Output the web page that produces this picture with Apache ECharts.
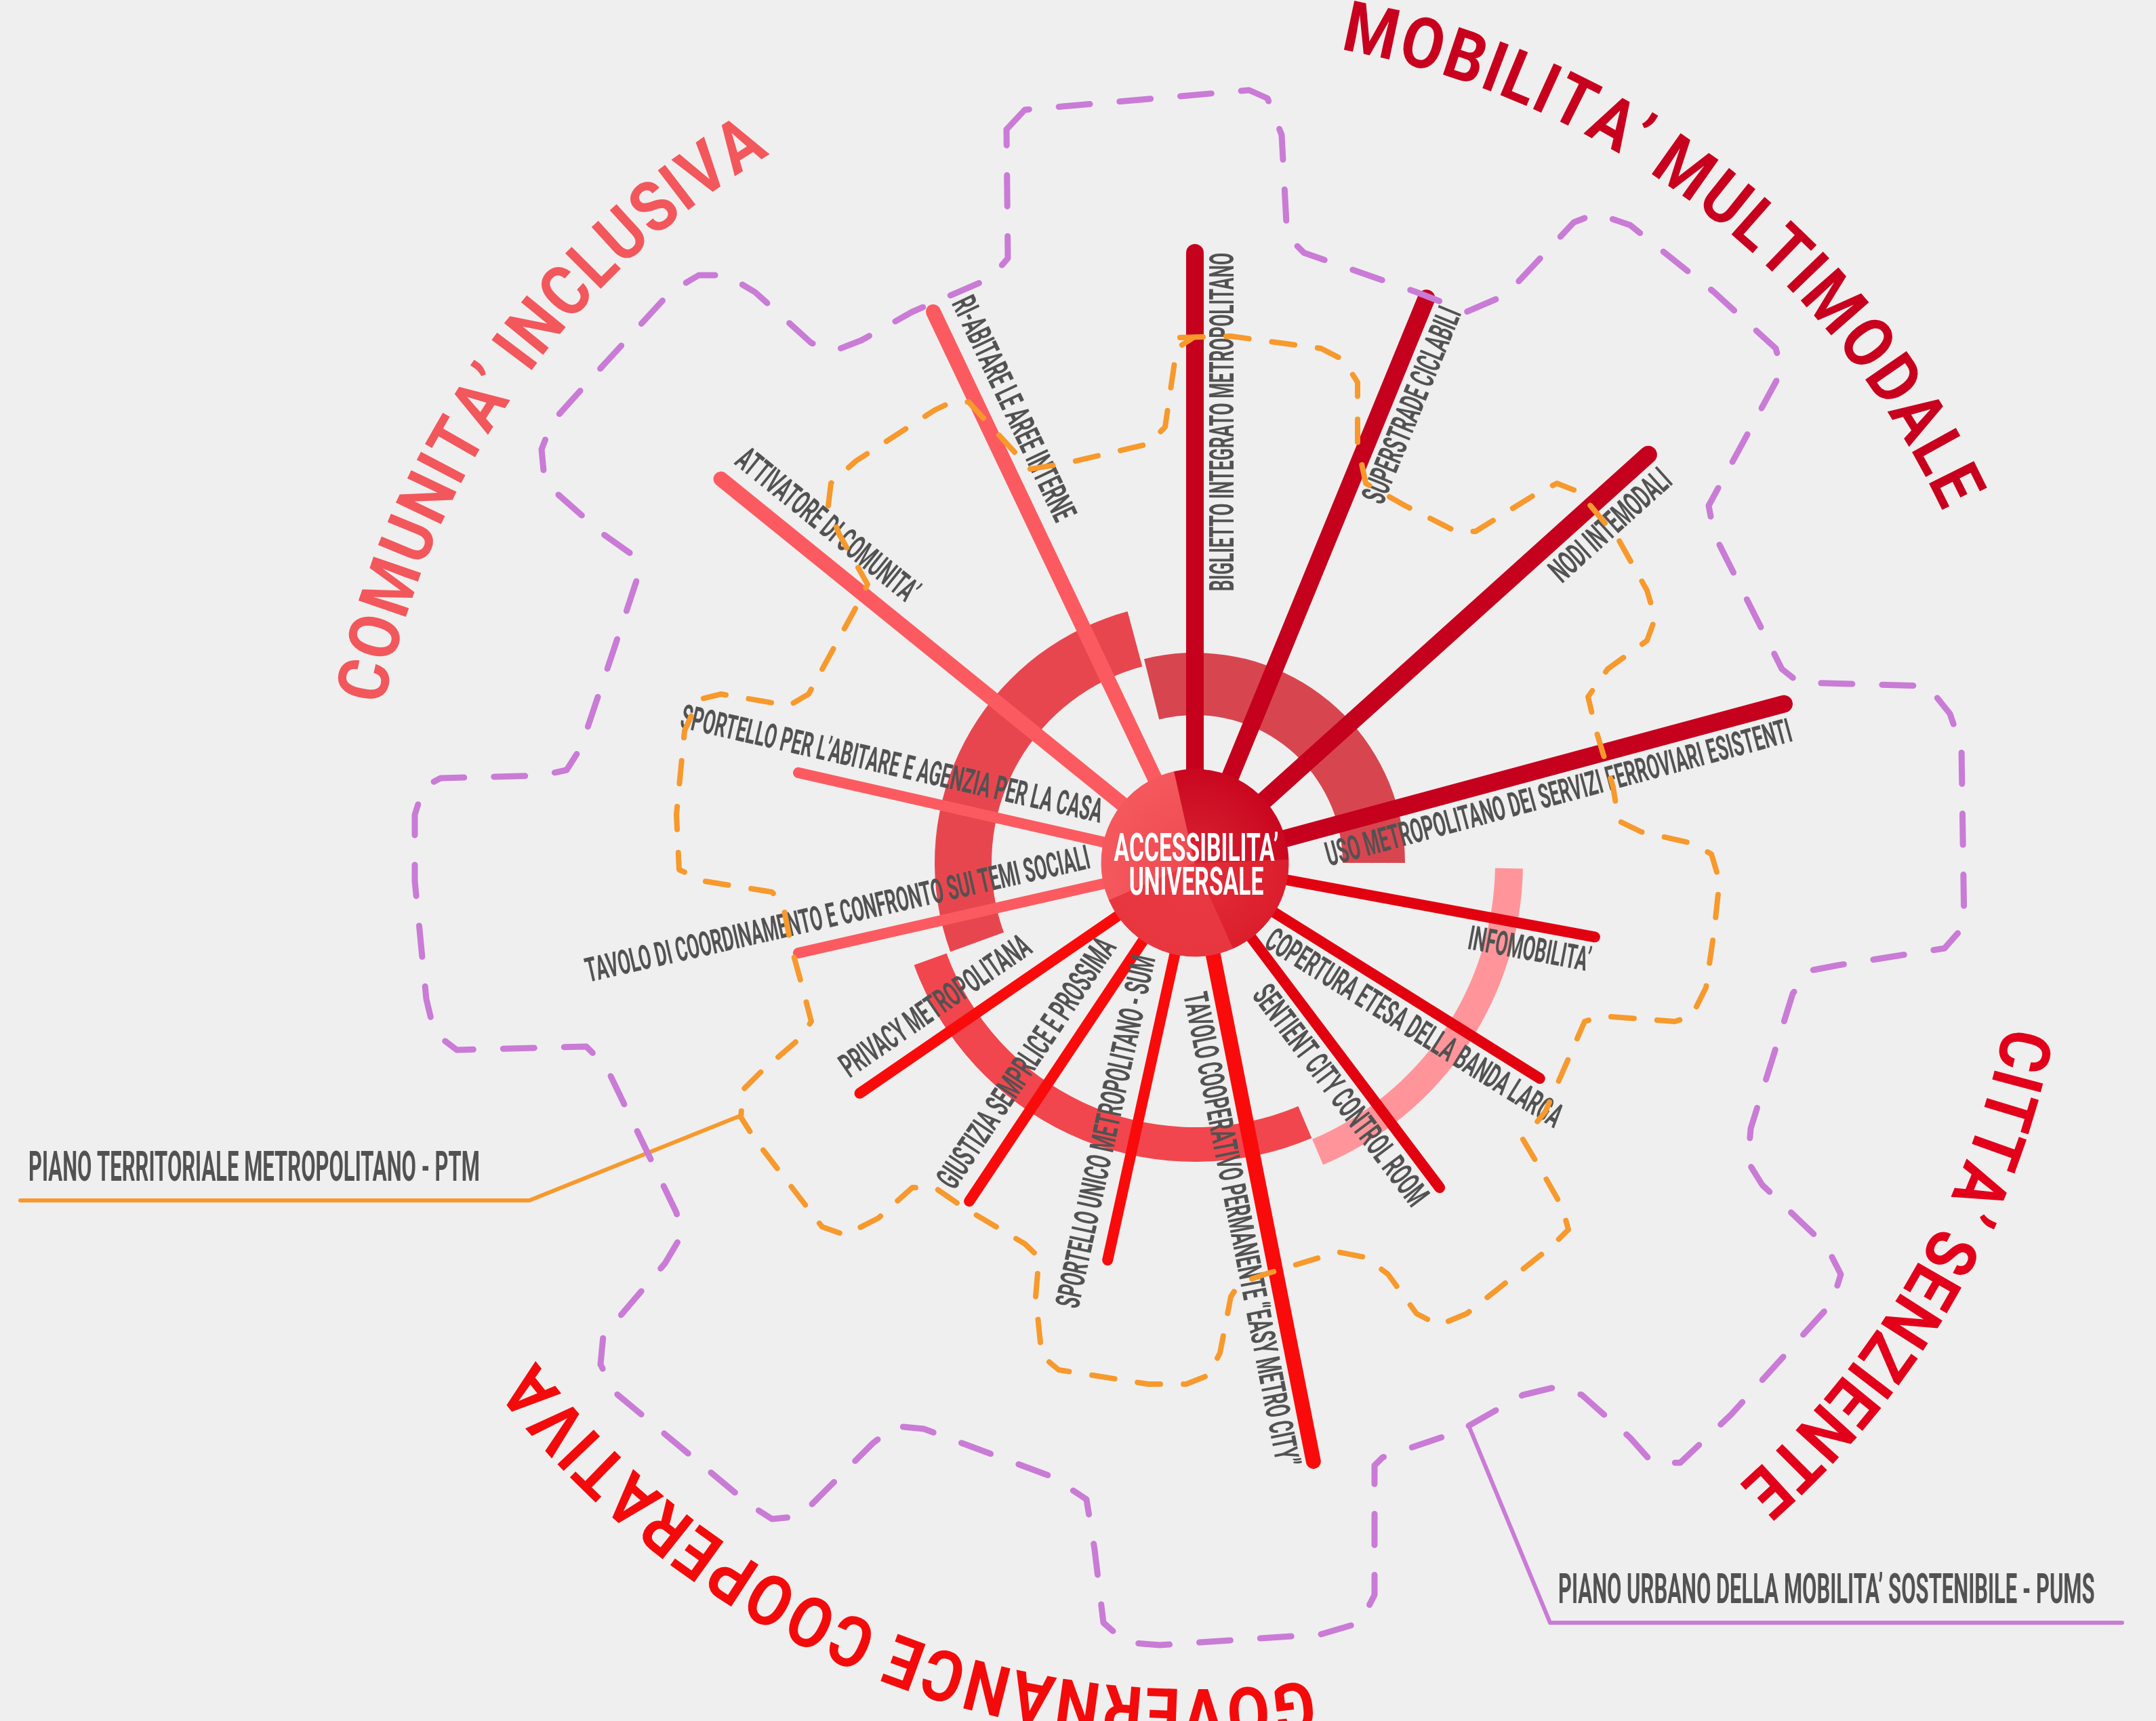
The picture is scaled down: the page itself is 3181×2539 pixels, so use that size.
<!DOCTYPE html>
<html><head><meta charset="utf-8">
<script src="https://cdn.jsdelivr.net/npm/echarts/dist/echarts.min.js"></script>
<style>html,body{margin:0;padding:0;background:#efefef}#c{width:3181px;height:2539px}</style>
</head><body><div id="c"></div>
<script>
// ---------------- DATA ----------------
const groupNames = ['MOBILITA’ MULTIMODALE', 'CITTA’ SENZIENTE', 'GOVERNANCE COOPERATIVA', 'COMUNITA’ INCLUSIVA'];
const hubLabel = ['ACCESSIBILITA’', 'UNIVERSALE'];
const actionLabels = [
  'BIGLIETTO INTEGRATO METROPOLITANO',
  'SUPERSTRADE CICLABILI',
  'NODI INTEMODALI',
  'USO METROPOLITANO DEI SERVIZI FERROVIARI ESISTENTI',
  'INFOMOBILITA’',
  'COPERTURA ETESA DELLA BANDA LARGA',
  'SENTIENT CITY CONTROL ROOM',
  'TAVOLO COOPERATIVO PERMANENTE “EASY METRO CITY”',
  'SPORTELLO UNICO METROPOLITANO - SUM',
  'GIUSTIZIA SEMPRLICE E PROSSIMA',
  'PRIVACY METROPOLITANA',
  'TAVOLO DI COORDINAMENTO E CONFRONTO SUI TEMI SOCIALI',
  'SPORTELLO PER L’ABITARE E AGENZIA PER LA CASA',
  'ATTIVATORE DI COMUNITA’',
  'RI-ABITARE LE AREE INTERNE'
];
const actionGroup = [0, 0, 0, 0, 1, 1, 1, 2, 2, 2, 2, 3, 3, 3, 3];
const actionAngle = [90, 67.7, 42, 15.1, -10.5, -32, -53, -78.8, -102.4, -123.7, -145.5, -167.2, 167.2, 141, 115.4];
const actionLevel = [3, 3, 3, 3, 2, 2, 2, 3, 2, 2, 2, 2, 2, 3, 3];
// angular extent of each group's ring arc (degrees, counter-clockwise from east)
const ringFrom = [0, -67, -160, 105];
const ringTo = [104, -1, -67, 200];
// plan names (legend)
const planNames = ['PIANO TERRITORIALE METROPOLITANO - PTM', 'PIANO URBANO DELLA MOBILITA’ SOSTENIBILE - PUMS'];
// plan outlines (chart units, hub at 0,0)
const planPTM = [[-22,775],[53,777],[186,759],[219,742],[240,709],[240,618],[252,560],[310,527],[385,489],[414,489],[501,543],[534,560],[567,547],[625,477],[667,402],[679,361],[667,328],[609,286],[580,245],[592,195],[617,112],[625,62],[658,46],[733,29],[762,13],[774,-27],[766,-101],[754,-184],[733,-226],[708,-234],[600,-226],[575,-234],[517,-367],[484,-408],[509,-450],[542,-508],[551,-541],[526,-566],[401,-665],[360,-682],[327,-665],[285,-607],[252,-582],[211,-574],[103,-607],[66,-620],[53,-640],[37,-723],[20,-756],[-13,-769],[-69,-769],[-201,-748],[-226,-727],[-235,-640],[-230,-582],[-251,-562],[-342,-508],[-384,-479],[-417,-479],[-467,-524],[-516,-549],[-550,-537],[-649,-408],[-670,-375],[-666,-334],[-641,-309],[-583,-259],[-566,-234],[-579,-184],[-595,-126],[-608,-60],[-624,-43],[-724,-27],[-761,-10],[-765,71],[-753,195],[-732,241],[-699,249],[-599,232],[-570,249],[-500,377],[-483,411],[-525,485],[-541,527],[-537,560],[-500,593],[-384,668],[-359,680],[-334,680],[-243,581],[-193,589],[-69,618],[-44,643],[-27,759],[-2,775]];
const planPUMS = [[-278,1082],[-251,1111],[80,1140],[107,1128],[128,1074],[136,925],[161,900],[327,842],[401,813],[459,838],[559,945],[592,958],[642,941],[766,842],[857,759],[866,726],[758,527],[766,485],[866,286],[891,266],[1081,261],[1114,220],[1131,170],[1135,-93],[1106,-126],[949,-151],[907,-159],[882,-193],[820,-392],[816,-441],[837,-475],[932,-566],[953,-607],[940,-649],[791,-814],[716,-885],[675,-885],[642,-848],[571,-785],[534,-773],[484,-785],[389,-839],[277,-877],[265,-889],[265,-1080],[244,-1121],[186,-1138],[-52,-1154],[-102,-1150],[-135,-1121],[-148,-1013],[-160,-939],[-210,-906],[-400,-835],[-442,-831],[-475,-856],[-566,-947],[-583,-964],[-624,-968],[-657,-947],[-856,-781],[-877,-740],[-873,-698],[-782,-591],[-757,-549],[-765,-516],[-869,-300],[-898,-271],[-1089,-276],[-1122,-251],[-1134,-201],[-1151,-27],[-1151,71],[-1138,112],[-1113,125],[-964,129],[-927,137],[-906,170],[-856,319],[-823,419],[-832,456],[-873,485],[-939,543],[-960,568],[-964,610],[-948,651],[-873,734],[-774,842],[-732,867],[-691,867],[-649,842],[-566,767],[-533,755],[-492,771],[-417,813],[-301,863],[-276,892]];
const leaderPTM = [[-1733,-498],[-982,-498],[-673,-374]];
const leaderPUMS = [[1368,-1121],[524,-1121],[405,-833]];

// ---------------- STYLE ----------------
const SPOKE_COL = ['#c5011d', '#e2020f', '#fa0b0b', '#fb5b60'];
const RING_COL = ['#d7464f', '#ff959a', '#f1464d', '#e8464f'];
const TITLE_COL = ['#c8001e', '#e2001a', '#f30b0b', '#f2575c'];
const HUB_COL = ['#c9071f', '#dc1e2c', '#e8363f', '#f4585d'];
const RING_R = [[218, 310], [443, 484], [390, 441], [300, 384]];
const TITLE_ARC = [[78, 26.4], [-12.8, -47.6], [-83.3, -141.5], [167.6, 122.4]];
const TITLE_R = 1245;
const UNIT = 300, HUB_R = 138, R_MIN = 150;
const LABEL_FONT = 'bold 50px Roboto', LABEL_SX = 0.525;
const HUB_FONT = 'bold 58px Roboto', HUB_SX = 0.58;
const PLAN_FONT = 'bold 62px Roboto', PLAN_SX = 0.5;
const TITLE_FONT = 'bold 104px Roboto', TITLE_SX = 0.88;
const PLAN_COL = ['#f7992c', '#c97bd6'];
const TEXT_COL = '#525252';

const mctx = document.createElement('canvas').getContext('2d');
function textW(s, font) { mctx.font = font; return mctx.measureText(s).width; }
const D2R = Math.PI / 180;
function spokeWidth(i) { return actionGroup[i] === 0 ? 26 : (actionLevel[i] === 3 ? 22 : 16); }
function txt(x, y, rot, sx, text, font, fill, align, valign) {
  return { type: 'text', x: x, y: y, rotation: rot, scaleX: sx, scaleY: 1,
    style: { text: text, x: 0, y: 0, font: font, fill: fill, align: align, textAlign: align,
      verticalAlign: valign, textVerticalAlign: valign } };
}

// ---------------- CHART ----------------
const chart = echarts.init(document.getElementById('c'), null, { renderer: 'canvas', width: 3181, height: 2539 });

const ringSeries = {
  type: 'custom', z: 1, silent: true, clip: false,
  data: groupNames.map((n, g) => [g, ringFrom[g], ringTo[g]]),
  renderItem: function (params, api) {
    const g = api.value(0), a0 = api.value(1), a1 = api.value(2);
    const c = api.coord([0, 0]), k = api.size([1, 0])[0];
    return { type: 'sector', shape: { cx: c[0], cy: c[1], r0: RING_R[g][0] * k, r: RING_R[g][1] * k,
      startAngle: -a1 * D2R, endAngle: -a0 * D2R, clockwise: true },
      style: { fill: RING_COL[g] } };
  }
};

const spokeSeries = {
  type: 'custom', z: 2, silent: true, clip: false,
  data: actionLabels.map((l, i) => [actionAngle[i], actionLevel[i], actionGroup[i], i]),
  renderItem: function (params, api) {
    const th = api.value(0) * D2R, L = api.value(1) * UNIT, g = api.value(2), i = api.value(3);
    const c = api.coord([0, 0]), e = api.coord([L * Math.cos(th), L * Math.sin(th)]);
    return { type: 'line', shape: { x1: c[0], y1: c[1], x2: e[0], y2: e[1] },
      style: { stroke: SPOKE_COL[g], lineWidth: spokeWidth(i), lineCap: 'round' } };
  }
};

const labelSeries = {
  type: 'custom', z: 3, silent: true, clip: false,
  data: actionLabels.map((l, i) => [actionAngle[i], actionLevel[i], actionGroup[i], i]),
  renderItem: function (params, api) {
    const deg = api.value(0), th = deg * D2R, L = api.value(1) * UNIT, i = api.value(3);
    const text = actionLabels[i];
    const len = textW(text, LABEL_FONT) * LABEL_SX;
    const rIn = Math.max(R_MIN, L - len);
    const rMid = rIn + len / 2;
    const d = spokeWidth(i) / 2 + 31;
    const px = rMid * Math.cos(th) + d * Math.sin(th);
    const py = rMid * Math.sin(th) - d * Math.cos(th);
    const p = api.coord([px, py]);
    const right = deg > -90 && deg <= 90;
    const rot = right ? th : th - Math.PI;
    return txt(p[0], p[1], rot, LABEL_SX, text, LABEL_FONT, TEXT_COL, 'center', 'middle');
  }
};

function planLine(data, col, w, dash) {
  return { type: 'line', z: 4, silent: true, showSymbol: false, symbol: 'none', animation: false,
    data: data.concat([data[0]]),
    lineStyle: { color: col, width: w, type: dash, cap: 'round', join: 'round' } };
}

const leaderSeries = {
  type: 'custom', z: 4, silent: true, clip: false,
  data: [[0], [1]],
  renderItem: function (params, api) {
    const j = api.value(0);
    const pts = (j === 0 ? leaderPTM : leaderPUMS);
    const px = pts.map(p => api.coord(p));
    const hx = Math.min(px[0][0], px[1][0]);
    return { type: 'group', children: [
      { type: 'polyline', shape: { points: px }, style: { stroke: PLAN_COL[j], lineWidth: 6, fill: null, lineCap: 'round', lineJoin: 'round' } },
      txt(hx + 12, px[1][1] - 14, 0, PLAN_SX, planNames[j], PLAN_FONT, TEXT_COL, 'left', 'bottom')
    ] };
  }
};

// hub sectors derived from spoke angles
const ord = actionAngle.map((a, i) => ({ a: (a + 360) % 360, g: actionGroup[i] })).sort((p, q) => p.a - q.a);
const bounds = [];
for (let i = 0; i < ord.length; i++) {
  const p = ord[i], q = ord[(i + 1) % ord.length];
  if (p.g !== q.g) { let qa = q.a; if (qa < p.a) qa += 360; bounds.push({ a: (p.a + qa) / 2, g: q.g }); }
}
const hubSeries = {
  type: 'custom', z: 5, silent: true, clip: false,
  data: [[0]],
  renderItem: function (params, api) {
    const c = api.coord([0, 0]), k = api.size([1, 0])[0];
    const ch = [];
    for (let j = 0; j < bounds.length; j++) {
      const a0 = bounds[j].a; let a1 = bounds[(j + 1) % bounds.length].a; if (a1 <= a0) a1 += 360;
      ch.push({ type: 'sector', shape: { cx: c[0], cy: c[1], r0: 0, r: HUB_R * k, startAngle: -a1 * D2R, endAngle: -a0 * D2R, clockwise: true },
        style: { fill: HUB_COL[bounds[j].g], stroke: HUB_COL[bounds[j].g], lineWidth: 1 } });
    }
    ch.push({ type: 'circle', shape: { cx: c[0], cy: c[1], r: HUB_R * k },
      style: { fill: { type: 'radial', x: 0.5, y: 0.5, r: 0.5, colorStops: [{ offset: 0, color: 'rgba(232,60,70,0.55)' }, { offset: 1, color: 'rgba(232,60,70,0)' }] } } });
    const t1 = api.coord([2, 18]), t2 = api.coord([2, -32]);
    ch.push(txt(t1[0], t1[1], 0, HUB_SX, hubLabel[0], HUB_FONT, '#ffffff', 'center', 'middle'));
    ch.push(txt(t2[0], t2[1], 0, HUB_SX, hubLabel[1], HUB_FONT, '#ffffff', 'center', 'middle'));
    return { type: 'group', children: ch };
  }
};

const titleSeries = {
  type: 'custom', z: 5, silent: true, clip: false,
  data: groupNames.map((n, g) => [g]),
  renderItem: function (params, api) {
    const g = api.value(0);
    const chars = Array.from(groupNames[g]);
    const aS = TITLE_ARC[g][0], aE = TITLE_ARC[g][1];
    const c = api.coord([0, 0]), k = api.size([1, 0])[0];
    const adv = chars.map(chr => textW(chr, TITLE_FONT) * TITLE_SX);
    const pos = []; let s = 0;
    for (let i = 0; i < chars.length; i++) { if (i > 0) s += (adv[i - 1] + adv[i]) / 2; pos.push(s); }
    const span = (aS - aE) * D2R * TITLE_R;
    const f = span / pos[pos.length - 1];
    const R = TITLE_R * k;
    const ch = chars.map((chr, i) => {
      const phi = aS * D2R - pos[i] * f / TITLE_R;
      return txt(c[0] + R * Math.cos(phi), c[1] - R * Math.sin(phi), phi - Math.PI / 2, TITLE_SX, chr, TITLE_FONT, TITLE_COL[g], 'center', 'middle');
    });
    return { type: 'group', children: ch };
  }
};

chart.setOption({
  animation: false,
  backgroundColor: '#efefef',
  grid: { left: 0, right: 0, top: 0, bottom: 0 },
  xAxis: { type: 'value', min: -1763, max: 1418, show: false },
  yAxis: { type: 'value', min: -1266, max: 1273, show: false },
  series: [
    ringSeries, spokeSeries, labelSeries,
    planLine(planPTM, PLAN_COL[0], 8, [34, 34]),
    planLine(planPUMS, PLAN_COL[1], 9, [46, 44]),
    leaderSeries, hubSeries, titleSeries
  ]
});
</script></body></html>
